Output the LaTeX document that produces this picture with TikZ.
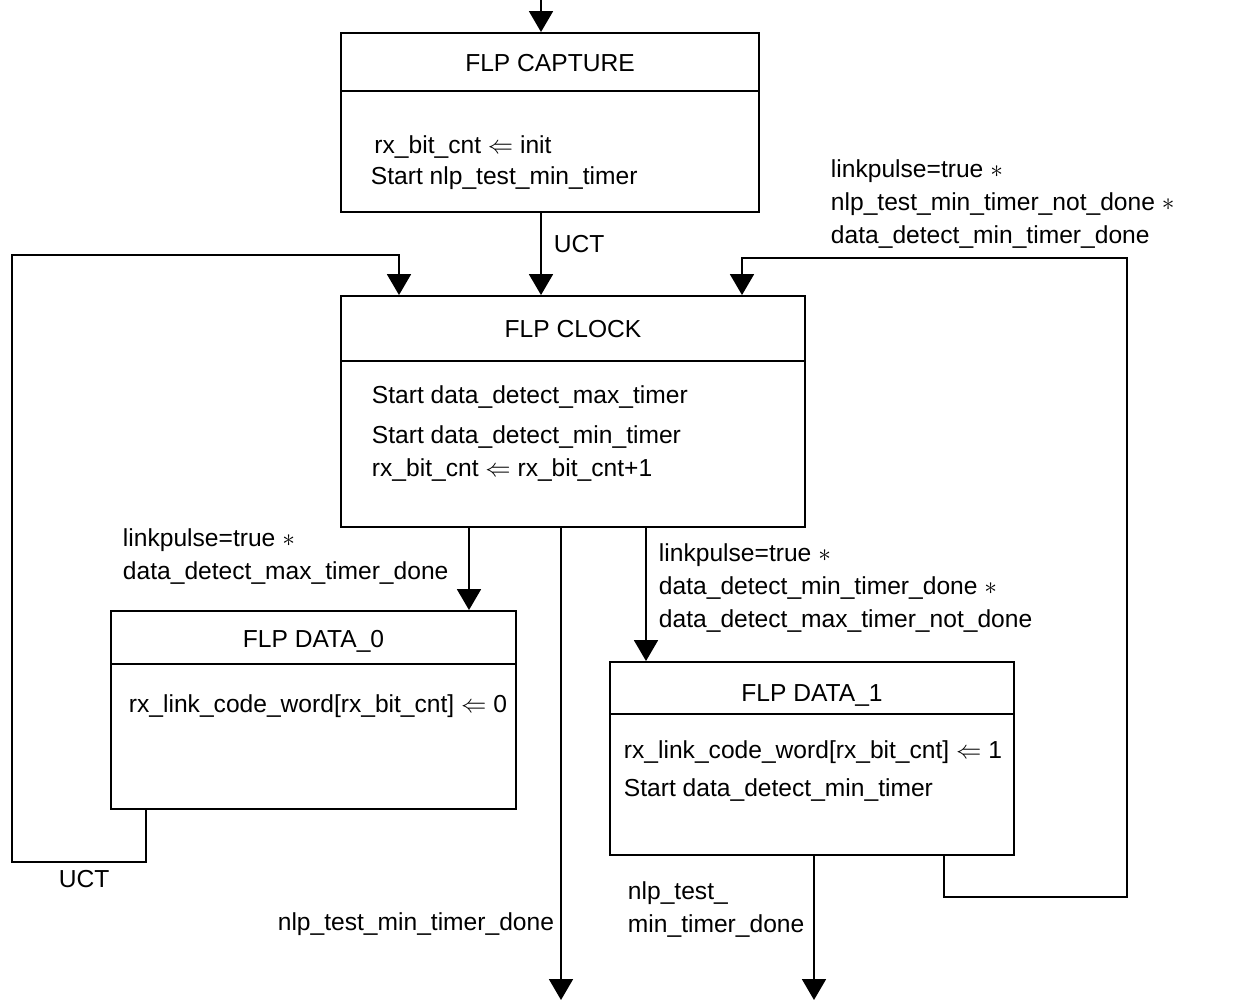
\documentclass[tikz,border=0pt]{standalone}
\usepackage{fontspec}
\setmainfont{Liberation Sans}
\usetikzlibrary{arrows.meta}

\begin{document}
\begin{tikzpicture}[
  x=0.02cm, y=-0.02cm,
  line width=1.1pt,
  state/.style={draw, rectangle, inner sep=0pt},
  ttl/.style={anchor=base, inner sep=0pt, font=\fontsize{14}{18.7}\selectfont},
  txt/.style={anchor=base west, inner sep=0pt, align=left, font=\fontsize{14}{18.7}\selectfont},
  go/.style={-{Triangle[length=4.2mm, width=4.8mm]}}
]
\useasboundingbox (0,0) rectangle (1242,1001);

% states
\node[state, minimum width=8.36cm, minimum height=3.58cm] (capture) at (550,122.5) {};
\node[state, minimum width=9.28cm, minimum height=4.62cm] (clock) at (573,411.5) {};
\node[state, minimum width=8.1cm, minimum height=3.96cm] (data0) at (313.5,710) {};
\node[state, minimum width=8.08cm, minimum height=3.86cm] (data1) at (812,758.5) {};

\draw (capture.west |- 0,91) -- (capture.east |- 0,91);
\draw (clock.west |- 0,361) -- (clock.east |- 0,361);
\draw (data0.west |- 0,664) -- (data0.east |- 0,664);
\draw (data1.west |- 0,714) -- (data1.east |- 0,714);

\node[ttl] (captureT) at (capture.north |- 0,71) {FLP CAPTURE};
\node[ttl] (clockT) at (clock.north |- 0,337) {FLP CLOCK};
\node[ttl] (data0T) at (data0.north |- 0,647) {FLP DATA\_0};
\node[ttl] (data1T) at (812,701) {FLP DATA\_1};

% (base of a multi-line node = last line)
\node[txt] (captureB) at (370,184) {\hspace{2pt}rx\_bit\_cnt $\Leftarrow$ init\\[-0.04cm]Start nlp\_test\_min\_timer};
\node[txt] (clockB) at (371,476) {Start data\_detect\_max\_timer\\[0.14cm]Start data\_detect\_min\_timer\\rx\_bit\_cnt $\Leftarrow$ rx\_bit\_cnt+1};
\node[txt] (data0B) at (128,712) {rx\_link\_code\_word[rx\_bit\_cnt] $\Leftarrow$ 0};
\node[txt] (data1B) at (623,796) {rx\_link\_code\_word[rx\_bit\_cnt] $\Leftarrow$ 1\\[0.1cm]Start data\_detect\_min\_timer};

% free ends
\coordinate (in) at (541,0);
\coordinate (out0) at (561,1000);
\coordinate (out1) at (814,1000);

% transitions
\draw[go] (in) -- (in |- capture.north);
\draw[go] (in |- capture.south) -- (in |- clock.north);
\node[txt] (uct1) at (553,252) {UCT};

\draw[go] (data0.south -| 146,0) |- (12,862) |- (399,255) -- (clock.north -| 399,0);
\node[txt] (uct0) at (58,887) {UCT};

\draw[go] (data1.south -| 944,0) |- (1127,897) |- (742,258) -- (clock.north -| 742,0);
\node[txt] (back1) at (830,243) {linkpulse=true $\ast$\\nlp\_test\_min\_timer\_not\_done $\ast$\\data\_detect\_min\_timer\_done};

\draw[go] (clock.south -| 469,0) -- (data0.north -| 469,0);
\node[txt] (to0) at (122,579) {linkpulse=true $\ast$\\data\_detect\_max\_timer\_done};

\draw[go] (clock.south -| 646,0) -- (data1.north -| 646,0);
\node[txt] (to1) at (658,627) {linkpulse=true $\ast$\\data\_detect\_min\_timer\_done $\ast$\\data\_detect\_max\_timer\_not\_done};

\draw[go] (clock.south -| out0) -- (out0);
\node[txt, anchor=base east] (exit0) at (555,930) {nlp\_test\_min\_timer\_done};

\draw[go] (data1.south -| out1) -- (out1);
\node[txt] (exit1) at (627,932) {nlp\_test\_\\min\_timer\_done};
\end{tikzpicture}
\end{document}
